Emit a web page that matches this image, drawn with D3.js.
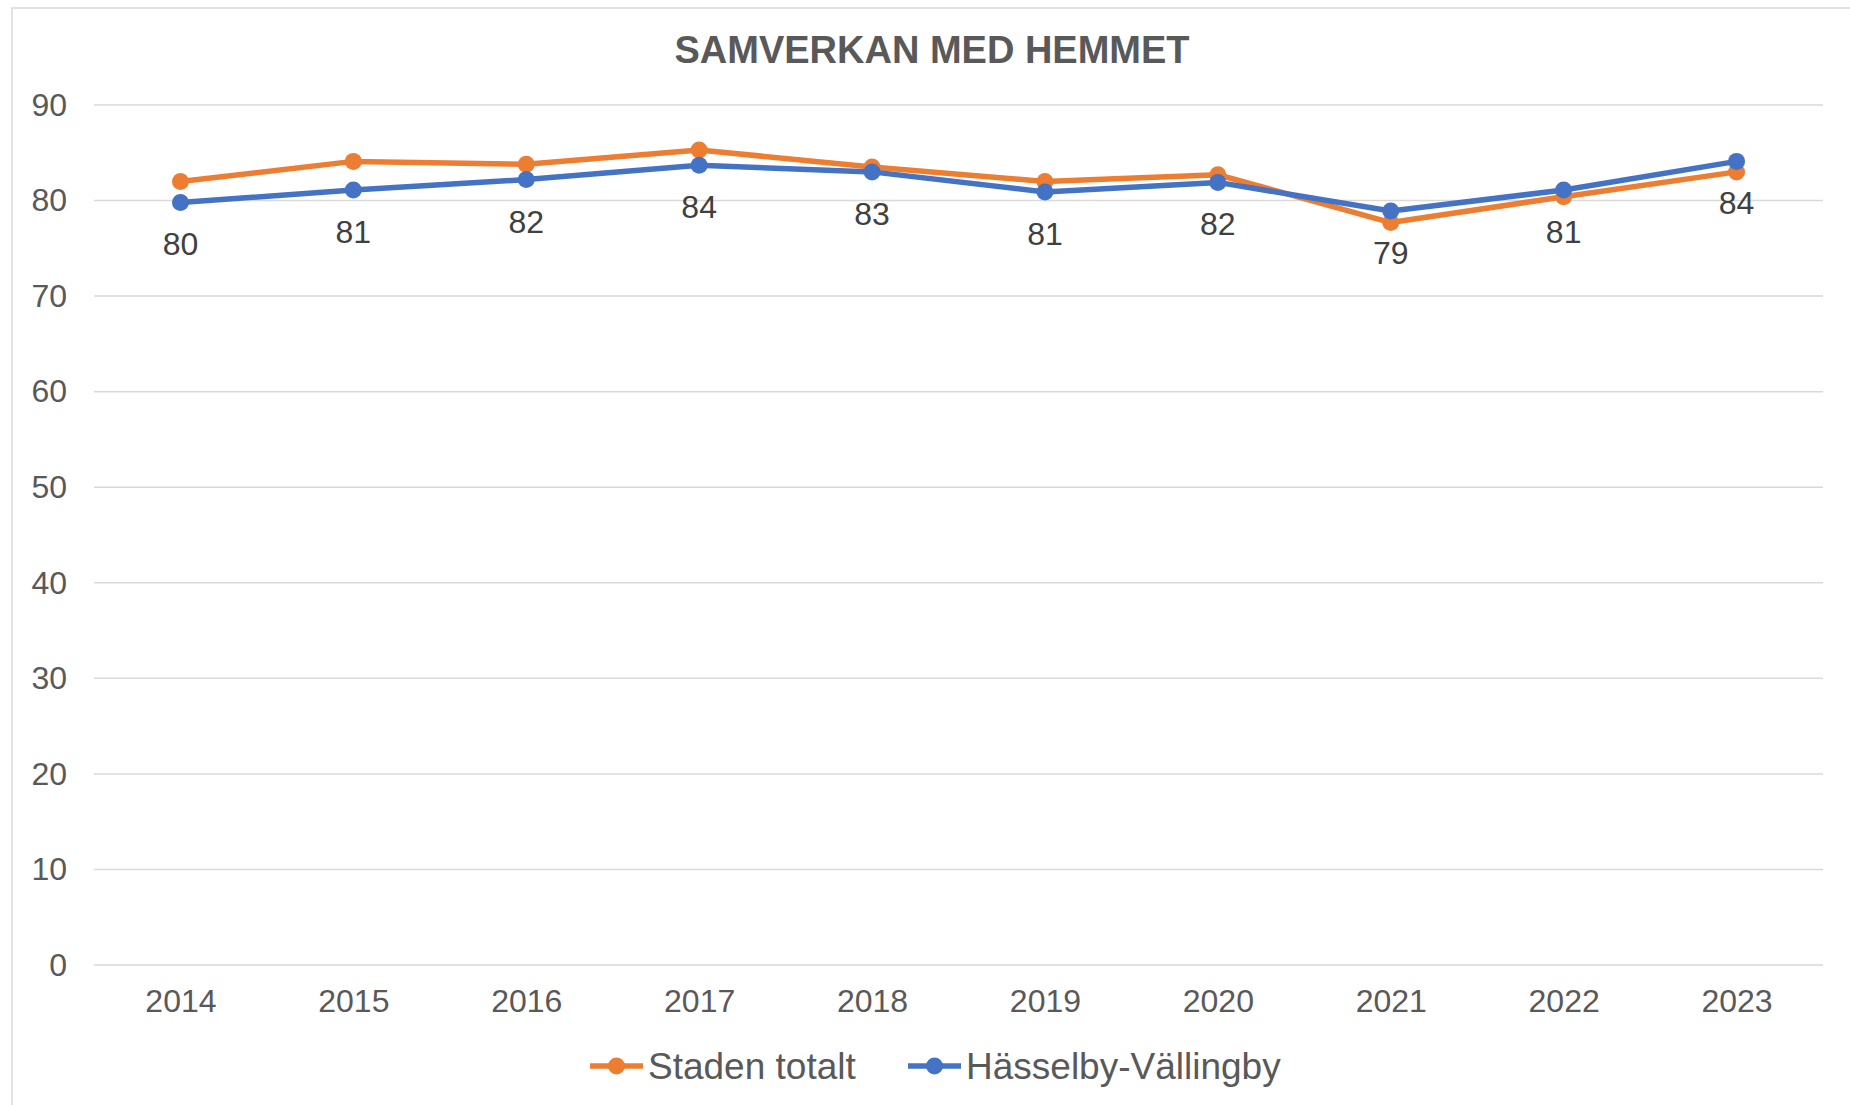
<!DOCTYPE html>
<html>
<head>
<meta charset="utf-8">
<script src="https://cdn.jsdelivr.net/npm/d3@7"></script>
<style>
  body { margin: 0; background: #fff; }
  text { font-family: "Liberation Sans", Arial, sans-serif; fill: #595959; }
</style>
</head>
<body>
<div id="chart"></div>
<script>
var years = [2014, 2015, 2016, 2017, 2018, 2019, 2020, 2021, 2022, 2023]
var staden = [82.0, 84.1, 83.8, 85.3, 83.5, 82.0, 82.7, 77.7, 80.4, 83.0]
var hasselby = [79.8, 81.1, 82.2, 83.7, 83.0, 80.9, 81.9, 78.9, 81.1, 84.1]
var hasselbyLabels = [80, 81, 82, 84, 83, 81, 82, 79, 81, 84]
var yTicks = [0, 10, 20, 30, 40, 50, 60, 70, 80, 90]

var series = [
  {name: 'Staden totalt', values: staden, color: '#ED7D31'},
  {name: 'Hässelby-Vällingby', values: hasselby, color: '#4472C4'}
]

var W = 1850, H = 1105
var svg = d3.select('#chart').append('svg').attr('width', W).attr('height', H)

// chart frame
svg.append('rect')
  .attr('x', 12).attr('y', 8).attr('width', W).attr('height', H)
  .attr('fill', '#fff').attr('stroke', '#d9d9d9').attr('stroke-width', 1.5)

var x = d3.scalePoint().domain(years).range([94, 1823]).padding(0.5)
var y = d3.scaleLinear().domain([0, 90]).range([965, 105])

svg.append('text')
  .attr('x', 932).attr('y', 63)
  .attr('text-anchor', 'middle')
  .style('font-size', '38px').style('font-weight', 'bold')
  .text('SAMVERKAN MED HEMMET')

// grid
svg.append('g').selectAll('line').data(yTicks).join('line')
  .attr('x1', 94).attr('x2', 1823)
  .attr('y1', d => y(d)).attr('y2', d => y(d))
  .attr('stroke', '#d9d9d9').attr('stroke-width', 1.5)

var yAxis = d3.axisLeft(y).tickValues(yTicks).tickSize(0).tickPadding(27)
svg.append('g').attr('transform', 'translate(94,0)').call(yAxis)
  .call(g => g.select('.domain').remove())
  .selectAll('text').style('font-size', '32px').attr('fill', '#595959')

var xAxis = d3.axisBottom(x).tickSize(0).tickPadding(24)
svg.append('g').attr('transform', 'translate(0,965)').call(xAxis)
  .call(g => g.select('.domain').remove())
  .selectAll('text').style('font-size', '32px').attr('fill', '#595959')

var line = d3.line().x((d, i) => x(years[i])).y(d => y(d))

series.forEach(function(s){
  var g = svg.append('g')
  g.append('path').attr('d', line(s.values))
    .attr('fill', 'none').attr('stroke', s.color).attr('stroke-width', 5.5)
    .attr('stroke-linejoin', 'round')
  g.selectAll('circle').data(s.values).join('circle')
    .attr('cx', (d, i) => x(years[i])).attr('cy', d => y(d))
    .attr('r', 8.5).attr('fill', s.color)
})

svg.append('g').selectAll('text').data(hasselby).join('text')
  .attr('x', (d, i) => x(years[i])).attr('y', d => y(d) + 53)
  .attr('text-anchor', 'middle')
  .style('font-size', '32px').style('fill', '#404040')
  .text((d, i) => hasselbyLabels[i])

// legend
var legendPos = [590, 908]
var leg = svg.append('g').selectAll('g').data(series).join('g')
  .attr('transform', (d, i) => 'translate(' + legendPos[i] + ',1066)')
leg.append('line').attr('x1', 0).attr('x2', 53)
  .attr('stroke', d => d.color).attr('stroke-width', 5.5)
leg.append('circle').attr('cx', 26.5).attr('r', 8.5).attr('fill', d => d.color)
leg.append('text').attr('x', 58).attr('y', 13)
  .style('font-size', '37px').text(d => d.name)
</script>
</body>
</html>
